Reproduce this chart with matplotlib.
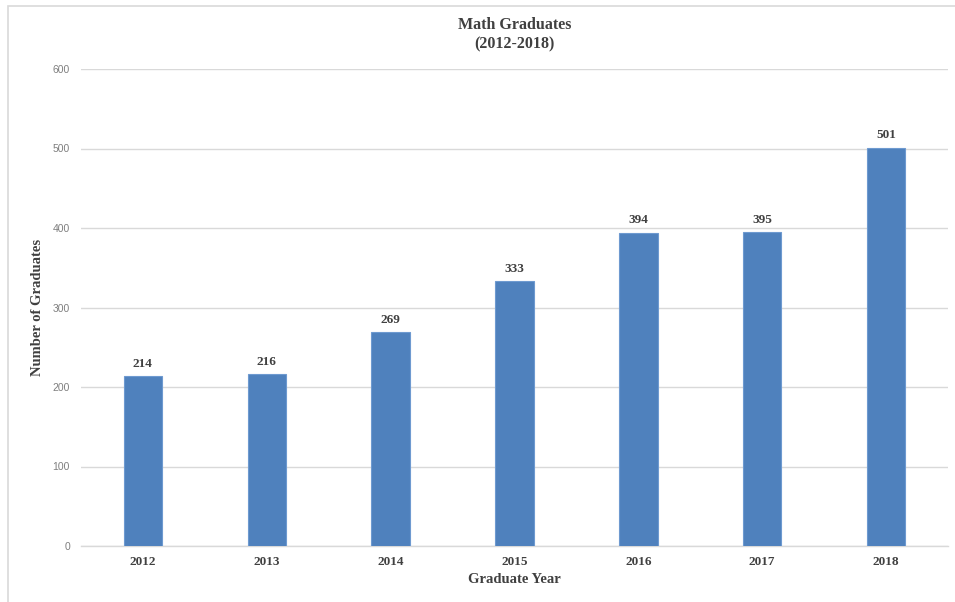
import matplotlib.pyplot as plt
from matplotlib.patches import Rectangle

years = ['2012', '2013', '2014', '2015', '2016', '2017', '2018']
graduates = [214, 216, 269, 333, 394, 395, 501]
yticks = [0, 100, 200, 300, 400, 500, 600]

serif = 'Liberation Serif'
dark = '#404040'

fig = plt.figure(figsize=(9.55, 6.02), dpi=100)
ax = fig.add_axes([81 / 955, 1 - 546 / 602, 867 / 955, 477 / 602])

x = range(len(years))
bars = ax.bar(x, graduates, width=0.31, color='#4F81BD', edgecolor='#6E9AD0', linewidth=0.8, zorder=3)
for b, v in zip(bars, graduates):
    ax.text(b.get_x() + b.get_width() / 2, v + 8, str(v), ha='center', va='bottom',
            fontfamily=serif, fontweight='bold', fontsize=9.5, color=dark)

ax.set_xlim(-0.5, len(years) - 0.5)
ax.set_ylim(0, 600)
ax.set_yticks(yticks)
ax.set_yticklabels([str(t) for t in yticks], fontfamily='Liberation Sans', fontsize=7.5, color='#7F7F7F')
ax.set_xticks(list(x))
ax.set_xticklabels(years, fontfamily=serif, fontweight='bold', fontsize=9.5, color=dark)
ax.tick_params(axis='both', length=0)
ax.tick_params(axis='y', pad=8)
ax.tick_params(axis='x', pad=7)
ax.grid(axis='y', color='#D9D9D9', linewidth=1, zorder=0)
for s in ['top', 'right', 'left']:
    ax.spines[s].set_visible(False)
ax.spines['bottom'].set_color('#D9D9D9')
ax.spines['bottom'].set_linewidth(1)

ax.set_xlabel('Graduate Year', fontfamily=serif, fontweight='bold', fontsize=10.5, color=dark, labelpad=4)
ax.set_ylabel('Number of Graduates', fontfamily=serif, fontweight='bold', fontsize=10.5, color=dark)
ax.yaxis.set_label_coords((44 - 81) / 867, 0.5)

fig.text(514.5 / 955, 1 - 35 / 602, 'Math Graduates\n(2012-2018)', ha='center', va='center',
         fontfamily=serif, fontweight='bold', fontsize=11.5, color=dark, linespacing=1.3)

# chart border
fig.patches.append(Rectangle((8 / 955, -0.01), 1.0, 1 - 6 / 602 + 0.01, transform=fig.transFigure,
                             fill=False, edgecolor='#D9D9D9', linewidth=1.2))

fig.savefig('out.png', dpi=100)
